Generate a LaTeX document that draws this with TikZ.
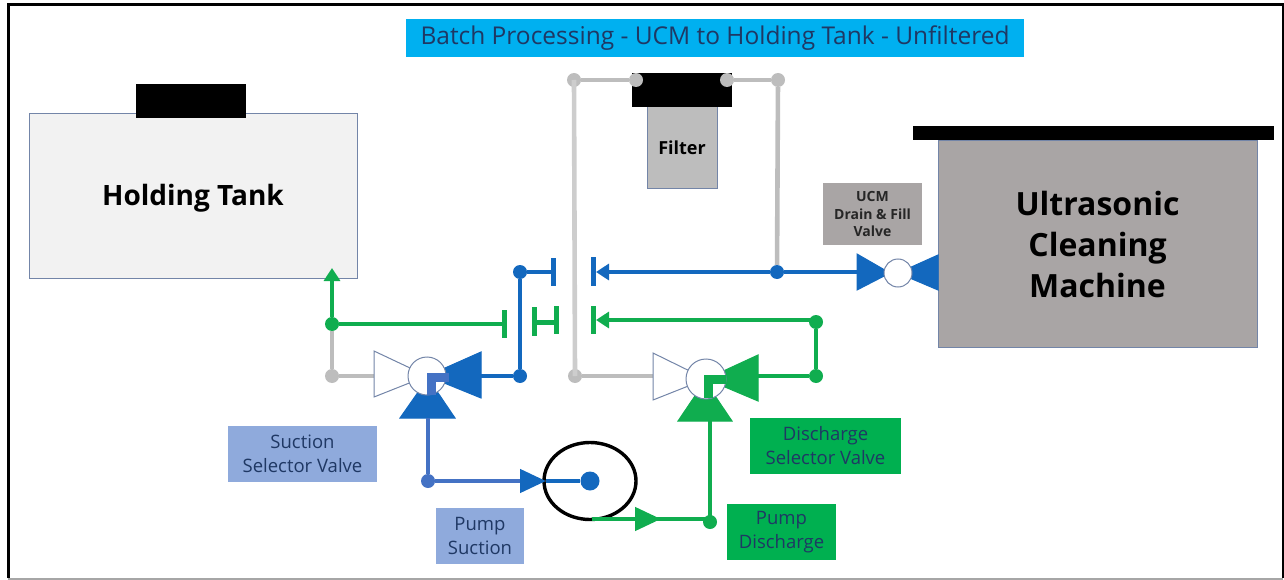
\documentclass[tikz,border=0pt]{standalone}
\usepackage{fontspec}
\setmainfont{Open Sans}
\usetikzlibrary{arrows.meta,shapes.geometric}
\definecolor{titlecyan}{HTML}{00B0F0}
\definecolor{pipeblue}{HTML}{1368BE}
\definecolor{pipesteel}{HTML}{4472C4}
\definecolor{pipegreen}{HTML}{10AD4F}
\definecolor{pipegrey}{HTML}{BDBDBD}
\definecolor{edgeblue}{HTML}{7385A8}
\definecolor{inkblue}{HTML}{1F3864}
\definecolor{tagblue}{HTML}{8FAADC}
\definecolor{taggreen}{HTML}{00B050}
\definecolor{machinegrey}{HTML}{A9A5A5}
\tikzset{
  tagbox/.style={fill=#1,text=inkblue,align=center,inner sep=0pt,font=\fontsize{18.5}{24}\selectfont},
  joint/.style={circle,fill=#1,inner sep=0pt,minimum size=14pt},
  pipe/.style={draw=#1,line width=4.6pt},
  flow/.style={draw=#1,line width=4.6pt,-{Triangle[length=13pt,width=16pt]}},
  bigflow/.style={draw=#1,line width=4.6pt,-{Triangle[length=26pt,width=23pt]}},
  stopbar/.style={draw=#1,line width=5pt},
  wing/.style 2 args={fill=#1,draw=#2,line width=1pt},
  hub/.style={circle,draw=edgeblue,fill=white,line width=1pt,inner sep=0pt},
  blackbox/.style={fill=black,inner sep=0pt}
}
\begin{document}
\begin{tikzpicture}[x=1pt,y=-1pt]
  \useasboundingbox (0,0) rectangle (1284,580);
  % frame
  \draw[black,line width=3pt] (8,578) -- (8,5) -- (1283,5) -- (1283,578);
  \draw[gray!70,line width=1.5pt] (8,579) -- (1283,579);

  \node[fill=titlecyan,minimum width=618pt,minimum height=38pt,inner sep=0pt,text=inkblue,font=\fontsize{24.5}{28}\selectfont] (title) at (715,38) {Batch Processing - UCM to Holding Tank - Unfiltered};

  % tanks
  \node[draw=edgeblue,fill=black!5,line width=1pt,minimum width=328pt,minimum height=165pt,inner sep=0pt] (tank) at (193,196) {};
  \node[inner sep=0pt,font=\fontsize{28}{32}\selectfont\bfseries] (tanklabel) at (193,198) {Holding Tank};
  \node[blackbox,minimum width=110pt,minimum height=34pt] (tankcap) at (191,101) {};
  \node[draw=edgeblue,fill=machinegrey,line width=1pt,minimum width=319pt,minimum height=207pt,inner sep=0pt,align=center,font=\fontsize{32}{41}\selectfont\bfseries] (ucm) at (1097.5,244) {Ultrasonic\\Cleaning\\Machine};
  \node[blackbox,minimum width=361pt,minimum height=14pt] (ucmlid) at (1093.5,133) {};

  % filter
  \node[draw=edgeblue,fill=pipegrey,line width=1pt,minimum width=70pt,minimum height=82pt,inner sep=0pt,font=\fontsize{18}{20}\selectfont\bfseries] (filter) at (682,148) {Filter};
  \node[blackbox,minimum width=100pt,minimum height=34pt] (filtercap) at (682,90) {};

  % grey pipes
  \node[joint=pipegrey] (g1) at (574,80) {};
  \node[joint=pipegrey] (g2) at (636,80) {};
  \node[joint=pipegrey] (g3) at (727,80) {};
  \node[joint=pipegrey] (g4) at (778,80) {};
  \node[joint=pipegrey] (g5) at (575,376) {};
  \node[joint=pipegrey] (g6) at (332,376) {};
  \coordinate (greyin) at (653,376);
  \coordinate (greyout) at (374,376);
  \draw[pipe=pipegrey!75!white] (g1.center) -- (g5.center);
  \draw[pipe=pipegrey] (g1) -- (g2);
  \draw[pipe=pipegrey] (g3) -- (g4);
  \draw[pipe=pipegrey] (g5) -- (greyin);
  \draw[pipe=pipegrey] (g6) -- (greyout);

  % blue circuit
  \node[joint=pipeblue] (b1) at (777,272) {};
  \node[joint=pipeblue] (b2) at (520,272) {};
  \node[joint=pipeblue] (b3) at (520,376) {};
  \node[joint=pipesteel] (b4) at (428,481) {};
  \node[joint=pipeblue,minimum size=19pt] (b5) at (590,481) {};
  \coordinate (ucmin) at (860,272);
  \coordinate (barb) at (596,272);
  \coordinate (barc) at (553,272);
  \coordinate (sucin) at (480,376);
  \draw[pipe=pipegrey] (g4) -- (b1);
  \draw[pipe=pipeblue] (ucmin) -- (b1);
  \draw[flow=pipeblue] (b1) -- (barb);
  \draw[pipe=pipeblue] (b2) -- (barc);
  \draw[pipe=pipeblue] (b2) -- (b3);
  \draw[pipe=pipeblue] (b3) -- (sucin);
  \draw[stopbar=pipeblue] (553,258) -- (553,286);
  \draw[stopbar=pipeblue] (593,257) -- (593,286);

  % green circuit
  \node[joint=pipegreen] (r1) at (332,324) {};
  \node[joint=pipegreen] (r2) at (816,322) {};
  \node[joint=pipegreen] (r3) at (816,376) {};
  \node[joint=pipegreen] (r4) at (710,522) {};
  \coordinate (tanktop) at (332,268);
  \coordinate (barg) at (504,324);
  \coordinate (barh) at (596,320);
  \coordinate (disin) at (757,376);
  \coordinate (disup) at (710,421);
  \draw[flow=pipegreen] (r1) -- (tanktop);
  \draw[pipe=pipegrey] (r1) -- (g6);
  \draw[pipe=pipegreen] (r1) -- (barg);
  \draw[flow=pipegreen] (r2.center |- barh) -- (barh);
  \draw[pipe=pipegreen] (r2) -- (r3);
  \draw[pipe=pipegreen] (r3) -- (disin);
  \draw[pipe=pipegreen] (r4.center) -- (disup);
  \draw[stopbar=pipegreen] (504,310) -- (504,338);
  \draw[stopbar=pipegreen] (534,307) -- (534,336);
  \draw[stopbar=pipegreen] (556,306) -- (556,334);
  \draw[stopbar=pipegreen] (534,322) -- (556,322);
  \draw[stopbar=pipegreen] (593,306) -- (593,334);

  % ucm valve
  \draw[wing={pipeblue}{pipeblue}] (857,254) -- (890,273) -- (857,290) -- cycle;
  \draw[wing={pipeblue}{pipeblue}] (938,255) -- (898,273) -- (938,290) -- cycle;
  \node[hub,minimum size=28pt] (ucmhub) at (898,273) {};

  % suction valve
  \draw[wing={white}{edgeblue}] (374,351) -- (427,376) -- (374,397) -- cycle;
  \draw[wing={pipeblue}{pipeblue}] (481,352) -- (427,376) -- (481,398) -- cycle;
  \draw[wing={pipeblue}{pipeblue}] (400,418) -- (428,378) -- (455,418) -- cycle;
  \node[hub,minimum size=38pt] (suchub) at (427,376) {};
  \draw[pipesteel,line width=9pt] (431,395) -- (431,377) -- (449,377);
  \coordinate (sucdown) at (428,418);
  \draw[pipe=pipesteel] (sucdown) -- (b4);

  % discharge valve
  \draw[wing={white}{edgeblue}] (653,353) -- (706,379) -- (653,400) -- cycle;
  \draw[wing={pipegreen}{pipegreen}] (758,355) -- (706,379) -- (758,401) -- cycle;
  \draw[wing={pipegreen}{pipegreen}] (678,421) -- (705,381) -- (732,421) -- cycle;
  \node[hub,minimum size=40pt] (dishub) at (706,379) {};
  \draw[pipegreen,line width=9pt] (708,398) -- (708,379) -- (726,379);

  % pump
  \node[ellipse,draw=black,line width=3.4pt,minimum width=92pt,minimum height=77pt,inner sep=0pt] (pump) at (590,481) {};
  \coordinate (sucbase) at (520,481);
  \coordinate (suctip) at (546,481);
  \coordinate (disstart) at (592,519);
  \coordinate (disbase) at (636,519);
  \coordinate (distip) at (661,519);
  \draw[pipe=pipesteel] (b4) -- (sucbase);
  \draw[bigflow=pipeblue] (sucbase) -- (suctip);
  \draw[pipe=pipeblue] (suctip) -- (b5);
  \draw[pipe=pipegreen] (disstart) -- (r4.center |- disstart);
  \draw[bigflow=pipegreen] (disbase) -- (distip);

  % labels
  \node[tagbox=machinegrey,text=black!85,minimum width=99pt,minimum height=62pt,font=\fontsize{14}{17.5}\selectfont\bfseries] (ucmtag) at (872.5,214) {UCM\\Drain \& Fill\\Valve};
  \node[tagbox=tagblue,minimum width=149pt,minimum height=56pt] (suctag) at (302.5,454) {Suction\\Selector Valve};
  \node[tagbox=tagblue,minimum width=88pt,minimum height=56pt] (pumptag) at (480,536) {Pump\\Suction};
  \node[tagbox=taggreen,minimum width=151pt,minimum height=56pt] (distag) at (825.5,446) {Discharge\\Selector Valve};
  \node[tagbox=taggreen,minimum width=109pt,minimum height=56pt] (outtag) at (781.5,532) {Pump\\Discharge};
\end{tikzpicture}
\end{document}
